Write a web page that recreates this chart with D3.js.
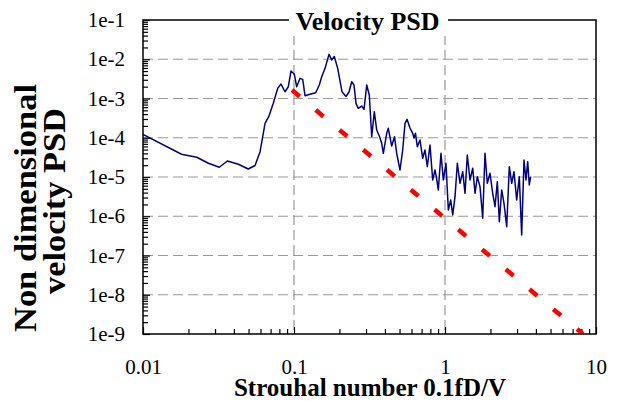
<!DOCTYPE html>
<html><head><meta charset="utf-8">
<script src="https://cdn.jsdelivr.net/npm/d3@7"></script>
<style>body{margin:0;background:#fff}</style></head>
<body>
<svg id="chart" width="620" height="401"></svg>
<script>
// ---- data ----
const strouhal = [
0.0100, 0.0180, 0.0227, 0.0271, 0.0320, 0.0362, 0.0428, 0.0498, 0.0552, 0.0596,
0.0643, 0.0683, 0.0729, 0.0780, 0.0820, 0.0872, 0.0917, 0.0955, 0.1005, 0.1042,
0.1096, 0.1142, 0.1183, 0.1276, 0.1392, 0.1471, 0.1526, 0.1605, 0.1705, 0.1777,
0.1849, 0.1947, 0.2079, 0.2210, 0.2313, 0.2411, 0.2497, 0.2574, 0.2666, 0.2808,
0.2909, 0.3031, 0.3153, 0.3271, 0.3403, 0.3530, 0.3673, 0.3810, 0.3904, 0.4111,
0.4212, 0.4436, 0.4630, 0.4787, 0.5035, 0.5247, 0.5434, 0.5602, 0.5864, 0.6111,
0.6233, 0.6377, 0.6555, 0.6831, 0.7118, 0.7371, 0.7635, 0.7956, 0.8290, 0.8586,
0.8784, 0.9028, 0.9408, 0.9744, 1.015, 1.052, 1.091, 1.125, 1.165, 1.207,
1.257, 1.310, 1.357, 1.405, 1.464, 1.526, 1.581, 1.637, 1.705, 1.777,
1.840, 1.906, 1.986, 2.070, 2.144, 2.221, 2.289, 2.374, 2.459, 2.562,
2.666, 2.765, 2.864, 2.984, 3.105, 3.220, 3.335, 3.438, 3.529, 3.616, 3.694
];
const velocityPsd = [
1.211e-4, 3.793e-5, 3.181e-5, 2.237e-5, 1.769e-5, 2.560e-5, 2.109e-5, 1.600e-5, 1.965e-5, 4.414e-5,
2.332e-4, 3.577e-4, 7.534e-4, 1.815e-3, 2.336e-3, 1.487e-3, 1.994e-3, 5.007e-3, 4.127e-3, 1.994e-3,
3.264e-3, 3.078e-3, 1.177e-3, 1.277e-3, 1.402e-3, 2.203e-3, 3.583e-3, 5.864e-3, 1.332e-2, 9.541e-3,
1.172e-2, 5.864e-3, 1.487e-3, 1.122e-3, 1.461e-3, 2.674e-3, 2.203e-3, 7.534e-4, 5.619e-4, 6.435e-4,
5.304e-4, 2.203e-3, 1.226e-3, 1.064e-4, 4.604e-4, 1.575e-4, 1.108e-4, 7.224e-5, 4.019e-5, 1.298e-4,
1.740e-4, 6.163e-5, 1.064e-4, 4.019e-5, 1.509e-5, 4.876e-5, 2.332e-4, 2.950e-4, 1.771e-4, 1.298e-4,
9.853e-5, 1.298e-4, 5.914e-5, 8.766e-5, 3.000e-5, 4.876e-5, 1.833e-5, 6.538e-5, 8.393e-6, 1.509e-5,
9.442e-6, 4.671e-6, 4.019e-5, 8.393e-6, 2.237e-5, 1.442e-6, 2.593e-6, 1.076e-6, 3.147e-6, 2.237e-5,
6.917e-6, 1.365e-5, 3.843e-6, 3.638e-5, 8.393e-6, 1.668e-5, 3.843e-6, 1.018e-5, 5.668e-6, 8.870e-7,
4.019e-5, 6.917e-6, 1.244e-5, 3.843e-6, 1.751e-6, 7.593e-6, 7.260e-7, 4.671e-6, 2.137e-6, 5.416e-7,
1.833e-5, 6.917e-6, 1.365e-5, 2.593e-6, 1.018e-5, 3.328e-7, 2.713e-5, 8.393e-6, 2.459e-5, 6.258e-6, 1.018e-5
];
const slopeLineX = [0.097, 8.19];
const slopeLineY = [1.64e-3, 1e-9];
const xTickValues = [0.01, 0.1, 1, 10];
const xTickLabels = ["0.01", "0.1", "1", "10"];
const yTickValues = [1e-1, 1e-2, 1e-3, 1e-4, 1e-5, 1e-6, 1e-7, 1e-8, 1e-9];
const yTickLabels = ["1e-1", "1e-2", "1e-3", "1e-4", "1e-5", "1e-6", "1e-7", "1e-8", "1e-9"];
const chartTitle = "Velocity PSD";
const xTitle = "Strouhal number 0.1fD/V";
const yTitleLines = ["Non dimensional", "velocity PSD"];

// ---- layout ----
const L = 143, R = 596, T = 20, B = 334;
const FONT = "'Liberation Serif','Times New Roman',serif";
const svg = d3.select("#chart");
svg.append("rect").attr("width", 620).attr("height", 401).attr("fill", "#fff");

const x = d3.scaleLog().domain([0.01, 10]).range([L, R]);
const y = d3.scaleLog().domain([1e-9, 1e-1]).range([B, T]);

svg.append("defs").append("clipPath").attr("id", "plotclip")
  .append("rect").attr("x", L).attr("y", T).attr("width", R - L).attr("height", B - T);

// grid
const gx = xTickValues.slice(1, -1), gy = yTickValues.slice(1, -1);
const grid = svg.append("g").attr("stroke", "#999").attr("stroke-width", 1.2).attr("stroke-dasharray", "10,5");
grid.selectAll("line.v").data(gx).join("line").attr("class", "v")
  .attr("x1", d => x(d)).attr("x2", d => x(d)).attr("y1", T).attr("y2", B);
grid.selectAll("line.h").data(gy).join("line").attr("class", "h")
  .attr("y1", d => y(d)).attr("y2", d => y(d)).attr("x1", L).attr("x2", R);

// minor ticks
const xMinor = x.ticks().filter(d => !xTickValues.some(v => Math.abs(v - d) / v < 1e-6));
const yMinor = y.ticks().filter(d => !yTickValues.some(v => Math.abs(v - d) / v < 1e-6));
const styleAxis = g => { g.select(".domain").remove(); g.selectAll("line").attr("stroke", "#000").attr("stroke-width", 1.2); };

svg.append("g").attr("transform", `translate(${L},0)`)
  .call(d3.axisLeft(y).tickValues(yMinor).tickFormat("").tickSizeInner(-5).tickSizeOuter(0))
  .call(styleAxis);
svg.append("g").attr("transform", `translate(0,${B})`)
  .call(d3.axisBottom(x).tickValues(xMinor).tickFormat("").tickSizeInner(-5).tickSizeOuter(0))
  .call(styleAxis);

// major axes with labels
const yAx = svg.append("g").attr("transform", `translate(${L},0)`)
  .call(d3.axisLeft(y).tickValues(yTickValues).tickFormat((d, i) => yTickLabels[i]).tickSizeInner(-7).tickSizeOuter(0).tickPadding(18))
  .call(styleAxis);
yAx.selectAll("text").attr("font-family", FONT).attr("font-size", 21).attr("fill", "#000");

const xAx = svg.append("g").attr("transform", `translate(0,${B})`)
  .call(d3.axisBottom(x).tickValues(xTickValues).tickFormat((d, i) => xTickLabels[i]).tickSizeInner(-7).tickSizeOuter(0).tickPadding(25))
  .call(styleAxis);
xAx.selectAll("text").attr("font-family", FONT).attr("font-size", 21).attr("fill", "#000");

// data
const plot = svg.append("g").attr("clip-path", "url(#plotclip)");
const line = d3.line().x(d => x(d[0])).y(d => y(d[1]));
plot.append("path").datum(strouhal.map((s, i) => [s, velocityPsd[i]]))
  .attr("d", line).attr("fill", "none").attr("stroke", "#000080").attr("stroke-width", 1.5)
  .attr("stroke-linejoin", "round");
plot.append("path").datum(slopeLineX.map((s, i) => [s, slopeLineY[i]]))
  .attr("d", line).attr("fill", "none").attr("stroke", "#ff0000").attr("stroke-width", 4.5)
  .attr("stroke-dasharray", "10,21");

// frame
svg.append("rect").attr("x", L).attr("y", T).attr("width", R - L).attr("height", B - T)
  .attr("fill", "none").attr("stroke", "#000").attr("stroke-width", 1.5);

// title with white background
svg.append("rect").attr("x", 289).attr("y", 4).attr("width", 159).attr("height", 32).attr("fill", "#fff");
svg.append("text").attr("x", 367.5).attr("y", 29.5).attr("text-anchor", "middle")
  .attr("font-family", FONT).attr("font-weight", "bold").attr("font-size", 26).text(chartTitle);

// axis titles
svg.append("text").attr("x", 370).attr("y", 396).attr("text-anchor", "middle")
  .attr("font-family", FONT).attr("font-weight", "bold").attr("font-size", 25).text(xTitle);
const yt = [[36, 208, 248], [65, 201, 186]];
yTitleLines.forEach((t, i) => {
  svg.append("text").attr("transform", `translate(${yt[i][0]},${yt[i][1]}) rotate(-90)`)
    .attr("text-anchor", "middle").attr("font-family", FONT).attr("font-weight", "bold")
    .attr("font-size", 31).attr("textLength", yt[i][2]).attr("lengthAdjust", "spacingAndGlyphs")
    .text(t);
});
</script>
</body></html>
